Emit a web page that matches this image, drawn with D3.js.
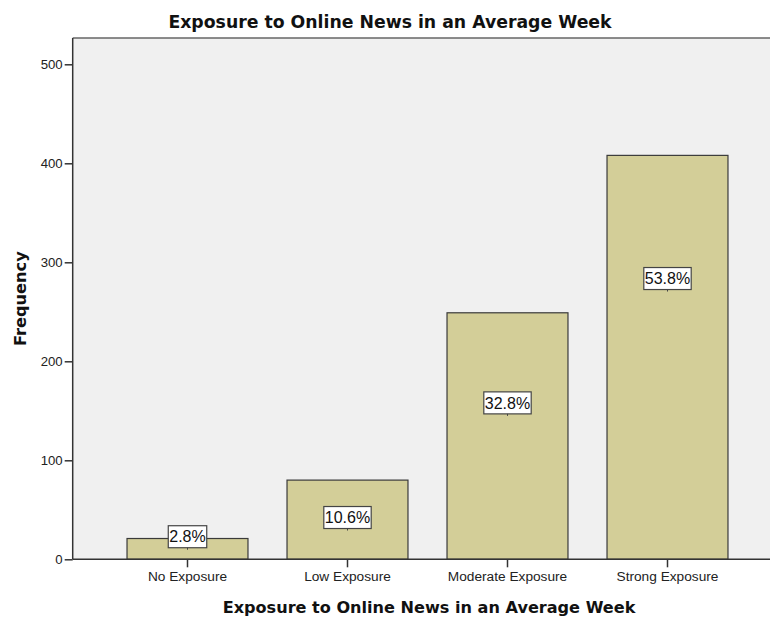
<!DOCTYPE html>
<html>
<head>
<meta charset="utf-8">
<script src="https://cdn.jsdelivr.net/npm/d3@7"></script>
<style>
  body { margin: 0; background: #ffffff; }
  svg { display: block; }
</style>
</head>
<body>
<svg id="chart" width="770" height="617"></svg>
<script>
// Weekly online news exposure, respondent counts per category
const categories = ["No Exposure", "Low Exposure", "Moderate Exposure", "Strong Exposure"];
const frequencies = [21, 80, 249, 408];
const yTickValues = [0, 100, 200, 300, 400, 500];
const chartTitle = "Exposure to Online News in an Average Week";
const xTitle = "Exposure to Online News in an Average Week";
const yTitle = "Frequency";

// Frequency level at which each percentage box sits inside its bar
const labelAnchors = [22.8, 42.2, 158, 283.6];

const W = 770, H = 617;
const plot = { left: 72.7, top: 38, right: 790, bottom: 559.3 };

const svg = d3.select("#chart");

const x = d3.scaleBand()
  .domain(categories)
  .range([107.5, 747.5])
  .paddingInner(0.244)
  .paddingOuter(0.122);

const y = d3.scaleLinear()
  .domain([0, 500])
  .range([plot.bottom, 64.3]);

const total = d3.sum(frequencies);
const pct = d3.format(".1f");

// plot background
svg.append("rect")
  .attr("x", plot.left).attr("y", plot.top)
  .attr("width", plot.right - plot.left).attr("height", plot.bottom - plot.top)
  .attr("fill", "#f0f0f0");

// top frame line
svg.append("line")
  .attr("x1", plot.left).attr("x2", W)
  .attr("y1", plot.top).attr("y2", plot.top)
  .attr("stroke", "#666").attr("stroke-width", 1.6);

// bars
const rows = categories.map((c, i) => ({ cat: c, value: frequencies[i], anchor: labelAnchors[i] }));

svg.append("g").selectAll("rect")
  .data(rows)
  .join("rect")
  .attr("x", d => x(d.cat))
  .attr("y", d => y(d.value))
  .attr("width", x.bandwidth())
  .attr("height", d => y(0) - y(d.value))
  .attr("fill", "#d3ce98")
  .attr("stroke", "#3a3a3a")
  .attr("stroke-width", 1.2);

const tickFont = "'Liberation Sans', Arial, sans-serif";

// y axis
const yAxis = svg.append("g")
  .attr("transform", `translate(${plot.left},0)`)
  .call(d3.axisLeft(y).tickValues(yTickValues).tickSize(8).tickPadding(2).tickSizeOuter(0));
yAxis.select(".domain").remove();
yAxis.append("line")
  .attr("x1", 0).attr("x2", 0).attr("y1", plot.top).attr("y2", plot.bottom)
  .attr("stroke", "#333").attr("stroke-width", 1.5);
yAxis.selectAll(".tick line").attr("stroke", "#333").attr("stroke-width", 1.5);
yAxis.selectAll(".tick text")
  .attr("fill", "#222")
  .style("font-family", tickFont)
  .style("font-size", "13.2px");

// x axis
const xAxis = svg.append("g")
  .attr("transform", `translate(0,${plot.bottom})`)
  .call(d3.axisBottom(x).tickSize(8).tickPadding(4).tickSizeOuter(0));
xAxis.select(".domain").remove();
xAxis.append("line")
  .attr("x1", plot.left).attr("x2", W).attr("y1", 0).attr("y2", 0)
  .attr("stroke", "#333").attr("stroke-width", 1.5);
xAxis.selectAll(".tick line").attr("stroke", "#333").attr("stroke-width", 1.5);
xAxis.selectAll(".tick text")
  .attr("fill", "#222")
  .style("font-family", tickFont)
  .style("font-size", "13.7px");

// percentage labels
const labels = svg.append("g").selectAll("g")
  .data(rows)
  .join("g")
  .attr("transform", d => `translate(${x(d.cat) + x.bandwidth() / 2},${y(d.anchor)})`);

labels.each(function (d) {
  const g = d3.select(this);
  const t = g.append("text")
    .attr("text-anchor", "middle")
    .attr("dy", "0.36em")
    .attr("fill", "#111")
    .style("font-family", tickFont)
    .style("font-size", "16px")
    .text(pct(d.value / total * 100) + "%");
  const w = t.node().getComputedTextLength();
  g.insert("rect", "text")
    .attr("x", -w / 2 - 1).attr("y", -11)
    .attr("width", w + 2).attr("height", 22)
    .attr("fill", "#ffffff")
    .attr("stroke", "#444").attr("stroke-width", 1.2);
  g.append("line")
    .attr("x1", 0).attr("x2", 0).attr("y1", 11).attr("y2", 13)
    .attr("stroke", "#444").attr("stroke-width", 1);
});

// titles
const titleFont = "'DejaVu Sans', sans-serif";

svg.append("text")
  .attr("x", 390).attr("y", 28)
  .attr("text-anchor", "middle")
  .attr("fill", "#111")
  .style("font-family", titleFont)
  .style("font-weight", "bold")
  .style("font-size", "17.3px")
  .text(chartTitle);

svg.append("text")
  .attr("x", 429).attr("y", 613)
  .attr("text-anchor", "middle")
  .attr("fill", "#111")
  .style("font-family", titleFont)
  .style("font-weight", "bold")
  .style("font-size", "16.1px")
  .text(xTitle);

svg.append("text")
  .attr("transform", `translate(26,${(plot.top + plot.bottom) / 2}) rotate(-90)`)
  .attr("text-anchor", "middle")
  .attr("fill", "#111")
  .style("font-family", titleFont)
  .style("font-weight", "bold")
  .style("font-size", "16.2px")
  .text(yTitle);
</script>
</body>
</html>
